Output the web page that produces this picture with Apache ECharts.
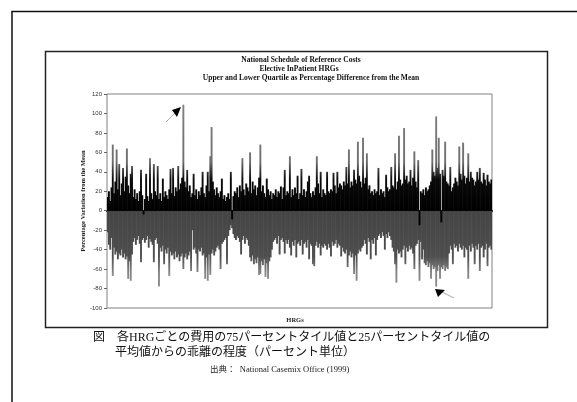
<!DOCTYPE html>
<html>
<head>
<meta charset="utf-8">
<script src="https://cdn.jsdelivr.net/npm/echarts@6/dist/echarts.min.js"></script>
<style>
html,body{margin:0;padding:0;background:#fff;}
#chart{width:577px;height:402px;}
</style>
</head>
<body>
<div id="chart"></div>
<script>
// Upper quartile as % difference from the mean (one value per HRG)
const upperQuartile = [
  14, 20, 10, 24, 68, 18, 30, 63, 22, 48,
  16, 28, 44, 20, 35, 64, 26, 18, 38, 46,
  14, 22, 12, 18, 10, 20, 42, 16, -4, 12,
  38, 15, 10, 54, 18, 12, 48, 20, 16, 46,
  12, 18, 10, 33, 14, 20, 16, 12, 22, 43,
  18, 44, 15, 24, 20, 46, 22, 28, 34, 109,
  30, 24, 42, 20, 26, 14, 18, 38, 16, 22,
  12, 20, 16, 24, 40, 18, 14, 26, 40, 20,
  56, 86, 30, 22, 16, 24, 18, 14, 20, 33,
  12, 16, 10, 14, 18, 12, 40, -9, 15, 20,
  18, 24, 14, 26, 20, 54, 22, 16, 28, 24,
  20, 60, 18, 30, 22, 26, 16, 24, 34, 68,
  20, 26, 18, 14, 33, 22, 16, 20, 12, 18,
  16, 22, 14, 20, 18, 25, 12, 24, 42, 16,
  20, 18, 56, 14, 22, 16, 24, 18, 36, 12,
  18, 43, 16, 22, 14, 20, 30, 36, 18, 14,
  20, 16, 24, 56, 28, 18, 40, 14, 22, 18,
  16, 40, 20, 18, 22, 20, 39, 26, 18, 40,
  24, 28, 26, 22, 30, 26, 45, 28, 63, 24,
  30, 26, 42, 32, 28, 71, 36, 30, 24, 75,
  28, 34, 59, 22, 26, 18, 20, 16, 22, 18,
  20, 44, 16, 22, 18, 20, 14, 37, 24, 20,
  22, 45, 26, 24, 59, 22, 30, 77, 32, 26,
  28, 85, 32, 36, 28, 30, 42, 26, 34, 61,
  30, 24, 52, -15, 20, 18, 22, 16, 24, 20,
  22, 26, 30, 63, 40, 36, 97, 44, 75, 38,
  -12, 42, 36, 71, 30, 28, 26, 45, 20, 24,
  28, 34, 30, 26, 66, 38, 32, 70, 36, 28,
  34, 59, 30, 40, 34, 32, 26, 30, 40, 32,
  44, 30, 28, 39, 32, 26, 37, 30, 28, 32
];
// Lower quartile as % difference from the mean (one value per HRG)
const lowerQuartile = [
  -22, -35, -40, -28, -67, -38, -45, -42, -50, -44,
  -46, -40, -48, -44, -50, -47, -70, -52, -72, -45,
  -32, -28, -35, -30, -26, -34, -53, -30, -28, -33,
  -30, -26, -38, -29, -32, -35, -53, -30, -28, -34,
  -78, -38, -42, -36, -55, -40, -44, -38, -67, -42,
  -46, -44, -50, -42, -48, -45, -52, -47, -44, -60,
  -48, -44, -50, -46, -42, -62, -20, -40, -38, -44,
  -63, -40, -42, -38, -46, -44, -70, -48, -72, -45,
  -66, -44, -40, -46, -42, -38, -36, -40, -60, -34,
  -32, -30, -28, -55, -26, -20, -15, -18, -24, -28,
  -30, -26, -28, -32, -45, -30, -26, -34, -28, -30,
  -36, -48, -52, -46, -55, -50, -54, -48, -66, -65,
  -52, -56, -50, -68, -54, -70, -52, -48, -40, -32,
  -30, -28, -34, -26, -45, -30, -28, -32, -44, -30,
  -34, -30, -38, -46, -32, -36, -30, -48, -34, -32,
  -36, -30, -45, -34, -32, -38, -30, -50, -34, -36,
  -55, -57, -36, -32, -38, -34, -46, -36, -38, -34,
  -36, -40, -34, -38, -47, -32, -36, -34, -30, -38,
  -34, -36, -47, -38, -42, -44, -40, -58, -46, -42,
  -48, -44, -65, -46, -72, -44, -40, -42, -38, -36,
  -30, -34, -45, -28, -32, -50, -30, -34, -28, -46,
  -30, -26, -24, -28, -22, -26, -40, -24, -28, -22,
  -26, -30, -38, -42, -55, -74, -40, -44, -42, -48,
  -40, -36, -55, -38, -42, -36, -40, -38, -44, -60,
  -36, -34, -30, -72, -32, -50, -40, -54, -56, -52,
  -58, -54, -70, -56, -60, -58, -78, -62, -56, -70,
  -58, -60, -56, -62, -58, -60, -44, -36, -40, -55,
  -34, -38, -36, -42, -34, -38, -40, -36, -48, -38,
  -40, -70, -36, -42, -34, -38, -55, -36, -40, -34,
  -62, -38, -36, -48, -40, -34, -57, -38, -36, -40
];
const hrgs = upperQuartile.map((_, i) => 'HRG ' + (i + 1));
const yTicks = { min: -100, max: 120, interval: 20 };

const titleLines = [
  'National Schedule of Reference Costs',
  'Elective InPatient HRGs',
  'Upper and Lower Quartile as Percentage Difference from the Mean'
];
const yTitle = 'Percentage Variation from the Mean';
const xTitle = 'HRGs';
const caption1 = '図\u3000各HRGごとの費用の75パーセントタイル値と25パーセントタイル値の';
const caption2 = '平均値からの乖離の程度（パーセント単位）';
const source = '出典：  National Casemix Office (1999)';

const G = { left: 107, top: 94, width: 385, height: 214 };
const zeroY = G.top + G.height * (yTicks.max / (yTicks.max - yTicks.min));

const serif = '"Liberation Serif", "Times New Roman", serif';
const cjk = '"Liberation Serif", "Noto Sans CJK JP", sans-serif';

function upperFill() {
  return new echarts.graphic.LinearGradient(0, zeroY, 0, G.top, [
    { offset: 0, color: '#000' },
    { offset: 0.27, color: '#0a0a0a' },
    { offset: 0.42, color: '#6e6e6e' },
    { offset: 1, color: '#858585' }
  ], true);
}
function lowerFill() {
  return new echarts.graphic.LinearGradient(0, zeroY, 0, G.top + G.height, [
    { offset: 0, color: '#444' },
    { offset: 0.47, color: '#4e4e4e' },
    { offset: 0.64, color: '#878787' },
    { offset: 1, color: '#959595' }
  ], true);
}

const chart = echarts.init(document.getElementById('chart'));
chart.setOption({
  animation: false,
  backgroundColor: '#fff',
  grid: { left: G.left, top: G.top, width: G.width, height: G.height, show: true, borderColor: '#808080', borderWidth: 1 },
  xAxis: {
    type: 'category', data: hrgs,
    axisLabel: { show: false }, axisTick: { show: false },
    axisLine: { show: true, onZero: true, lineStyle: { color: '#000', width: 2 } },
    splitLine: { show: false }
  },
  yAxis: {
    type: 'value', min: yTicks.min, max: yTicks.max, interval: yTicks.interval,
    splitLine: { show: false },
    axisLine: { show: false },
    axisTick: { show: true, length: 3, lineStyle: { color: '#666' } },
    axisLabel: { fontSize: 6, color: '#333', fontFamily: '"Liberation Sans", Arial, sans-serif', margin: 5 }
  },
  series: [
    {
      type: 'bar', data: upperQuartile, barGap: '-100%', barWidth: 1.9, z: 3,
      itemStyle: { color: upperFill() }
    },
    {
      type: 'bar', data: lowerQuartile, barGap: '-100%', barWidth: 1.9, z: 2,
      itemStyle: { color: lowerFill() }
    }
  ],
  graphic: [
    // outer page frame
    { type: 'polyline', shape: { points: [[12, 402], [12, 11.5], [577, 11.5]] }, style: { stroke: '#111', lineWidth: 1.5, fill: null } },
    // inner chart frame
    { type: 'rect', shape: { x: 45.5, y: 51.5, width: 502, height: 276 }, style: { stroke: '#222', lineWidth: 1.5, fill: null } },
    { type: 'text', style: { text: titleLines[0], x: 301, y: 60, textAlign: 'center', textVerticalAlign: 'middle', font: 'bold 7.5px ' + serif, fill: '#111' } },
    { type: 'text', style: { text: titleLines[1], x: 299, y: 69, textAlign: 'center', textVerticalAlign: 'middle', font: 'bold 7.5px ' + serif, fill: '#111' } },
    { type: 'text', style: { text: titleLines[2], x: 311, y: 78, textAlign: 'center', textVerticalAlign: 'middle', font: 'bold 7.5px ' + serif, fill: '#111' } },
    { type: 'text', x: 83, y: 201, rotation: Math.PI / 2, style: { text: yTitle, x: 0, y: 0, textAlign: 'center', textVerticalAlign: 'middle', font: 'bold 6.5px ' + serif, fill: '#222' } },
    { type: 'text', style: { text: xTitle, x: 295, y: 320, textAlign: 'center', textVerticalAlign: 'middle', font: 'bold 6.5px ' + serif, fill: '#222' } },
    // annotation arrows
    { type: 'line', shape: { x1: 166, y1: 122, x2: 176, y2: 112 }, style: { stroke: '#aaa', lineWidth: 1 } },
    { type: 'polygon', shape: { points: [[181, 107], [172, 110], [177, 117]] }, style: { fill: '#000' } },
    { type: 'line', shape: { x1: 442, y1: 292, x2: 454, y2: 298 }, style: { stroke: '#aaa', lineWidth: 1 } },
    { type: 'polygon', shape: { points: [[435, 289], [445, 290], [438, 297]] }, style: { fill: '#000' } },
    // captions
    { type: 'text', style: { text: caption1, x: 93, y: 338, textAlign: 'left', textVerticalAlign: 'middle', font: '12px ' + cjk, fill: '#111' } },
    { type: 'text', style: { text: caption2, x: 115, y: 353, textAlign: 'left', textVerticalAlign: 'middle', font: '12px ' + cjk, fill: '#111' } },
    { type: 'text', style: { text: source, x: 210, y: 370, textAlign: 'left', textVerticalAlign: 'middle', font: '8.5px ' + cjk, fill: '#222' } }
  ]
});
</script>
</body>
</html>
